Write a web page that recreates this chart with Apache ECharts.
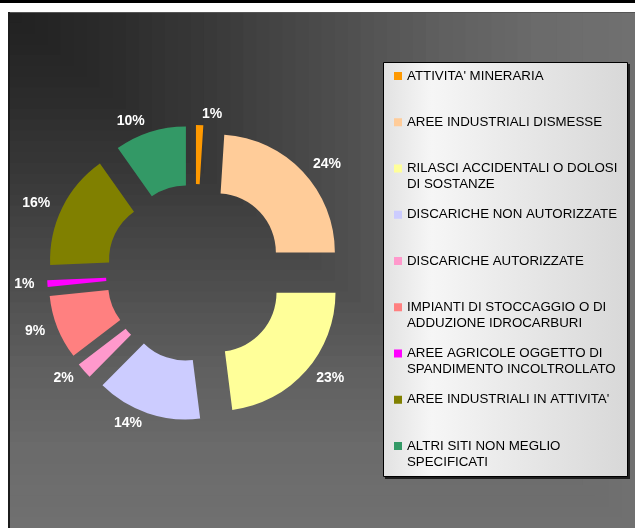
<!DOCTYPE html>
<html>
<head>
<meta charset="utf-8">
<title>Siti contaminati</title>
<script src="https://cdn.jsdelivr.net/npm/echarts@6/dist/echarts.min.js"></script>
<style>
  html, body { margin: 0; padding: 0; background: #fff; }
  #chart { width: 635px; height: 528px; }
</style>
</head>
<body>
<div id="chart"></div>
<script>
  // categories clockwise from 12 o'clock
  const categories = [
    "ATTIVITA' MINERARIA",
    'AREE INDUSTRIALI DISMESSE',
    'RILASCI ACCIDENTALI O DOLOSI\nDI SOSTANZE',
    'DISCARICHE NON AUTORIZZATE',
    'DISCARICHE AUTORIZZATE',
    'IMPIANTI DI STOCCAGGIO O DI\nADDUZIONE IDROCARBURI',
    'AREE AGRICOLE OGGETTO DI\nSPANDIMENTO INCOLTROLLATO',
    "AREE INDUSTRIALI IN ATTIVITA'",
    'ALTRI SITI NON MEGLIO\nSPECIFICATI'
  ]
  const values = [1.0, 24.0, 23.0, 14.4, 2.2, 8.8, 0.9, 15.9, 9.8]
  const colors = ['#ff9900', '#ffcc99', '#ffff99', '#ccccff', '#ff99cc', '#ff8080', '#ff00ff', '#808000', '#339966']

  const font = 'Liberation Sans, Arial, sans-serif'

  // legend marker sits on the first text line (icon box is 8 x 32, every entry is 2 lines)
  const legendIcon = 'path://M0,0h0.01M0,4h8v8h-8zM0,32h0.01'

  // plot area background: "from corner" shading built with nested rects
  const shadeKnots = [[0, 33], [0.15, 42], [0.3, 55], [0.5, 75], [0.7, 96], [0.85, 107], [1, 112]]
  function shade(t) {
    for (let k = 1; k < shadeKnots.length; k++) {
      const a = shadeKnots[k - 1], b = shadeKnots[k]
      if (t <= b[0]) return Math.round(a[1] + (b[1] - a[1]) * (t - a[0]) / (b[0] - a[0]))
    }
    return 112
  }
  const bg = []
  const steps = 48
  for (let i = steps; i >= 1; i--) {
    const v = shade((i - 0.5) / steps)
    bg.push({
      type: 'rect', silent: true, z: 0,
      shape: { x: 8, y: 12, width: 627 * i / steps, height: 516 * i / steps },
      style: { fill: 'rgb(' + v + ',' + v + ',' + v + ')' }
    })
  }

  const mychart = echarts.init(document.getElementById('chart'))
  mychart.setOption({
    animation: false,
    backgroundColor: '#fff',
    graphic: [
      { type: 'rect', silent: true, z: 0, shape: { x: 0, y: 0, width: 635, height: 3 }, style: { fill: '#000' } },
      ...bg,
      { type: 'rect', silent: true, z: 0, shape: { x: 8, y: 12, width: 627, height: 1 }, style: { fill: '#555' } },
      { type: 'rect', silent: true, z: 0, shape: { x: 8, y: 12, width: 2, height: 516 }, style: { fill: '#1c1c1c' } },
      // legend box
      { type: 'rect', silent: true, z: 1, shape: { x: 385, y: 64, width: 245, height: 415 }, style: { fill: '#1e1e1e' } },
      {
        type: 'rect', silent: true, z: 1,
        shape: { x: 383.5, y: 62.5, width: 244, height: 414 },
        style: {
          stroke: '#000', lineWidth: 1,
          fill: {
            type: 'linear', x: 0, y: 0, x2: 1, y2: 0,
            colorStops: [
              { offset: 0, color: '#e2e2e2' },
              { offset: 0.2, color: '#f6f6f6' },
              { offset: 0.45, color: '#ececec' },
              { offset: 1, color: '#d8d8d8' }
            ]
          }
        }
      }
    ],
    legend: {
      orient: 'vertical',
      left: 394,
      top: 68,
      padding: 0,
      itemGap: 14.25,
      itemWidth: 8,
      itemHeight: 32,
      icon: legendIcon,
      selectedMode: false,
      formatter: n => (n.indexOf('\n') >= 0 ? n : n + '\n '),
      textStyle: { color: '#000', fontSize: 13.3, fontFamily: font, lineHeight: 16 }
    },
    series: [
      {
        type: 'pie',
        center: [195, 273],
        radius: [59, 118],
        startAngle: 90,
        selectedMode: 'multiple',
        selectedOffset: 30,
        avoidLabelOverlap: false,
        data: categories.map((name, i) => ({
          name,
          value: values[i],
          selected: true,
          itemStyle: { color: colors[i] }
        })),
        label: {
          show: true,
          position: 'outside',
          formatter: p => Math.round(p.percent) + '%',
          color: '#fff',
          fontWeight: 'bold',
          fontSize: 14,
          fontFamily: font,
          distanceToLabelLine: 2
        },
        labelLine: { show: false, length: 11, length2: 0 },
        select: { itemStyle: { borderWidth: 0 } },
        emphasis: { disabled: true }
      }
    ]
  })
</script>
</body>
</html>
